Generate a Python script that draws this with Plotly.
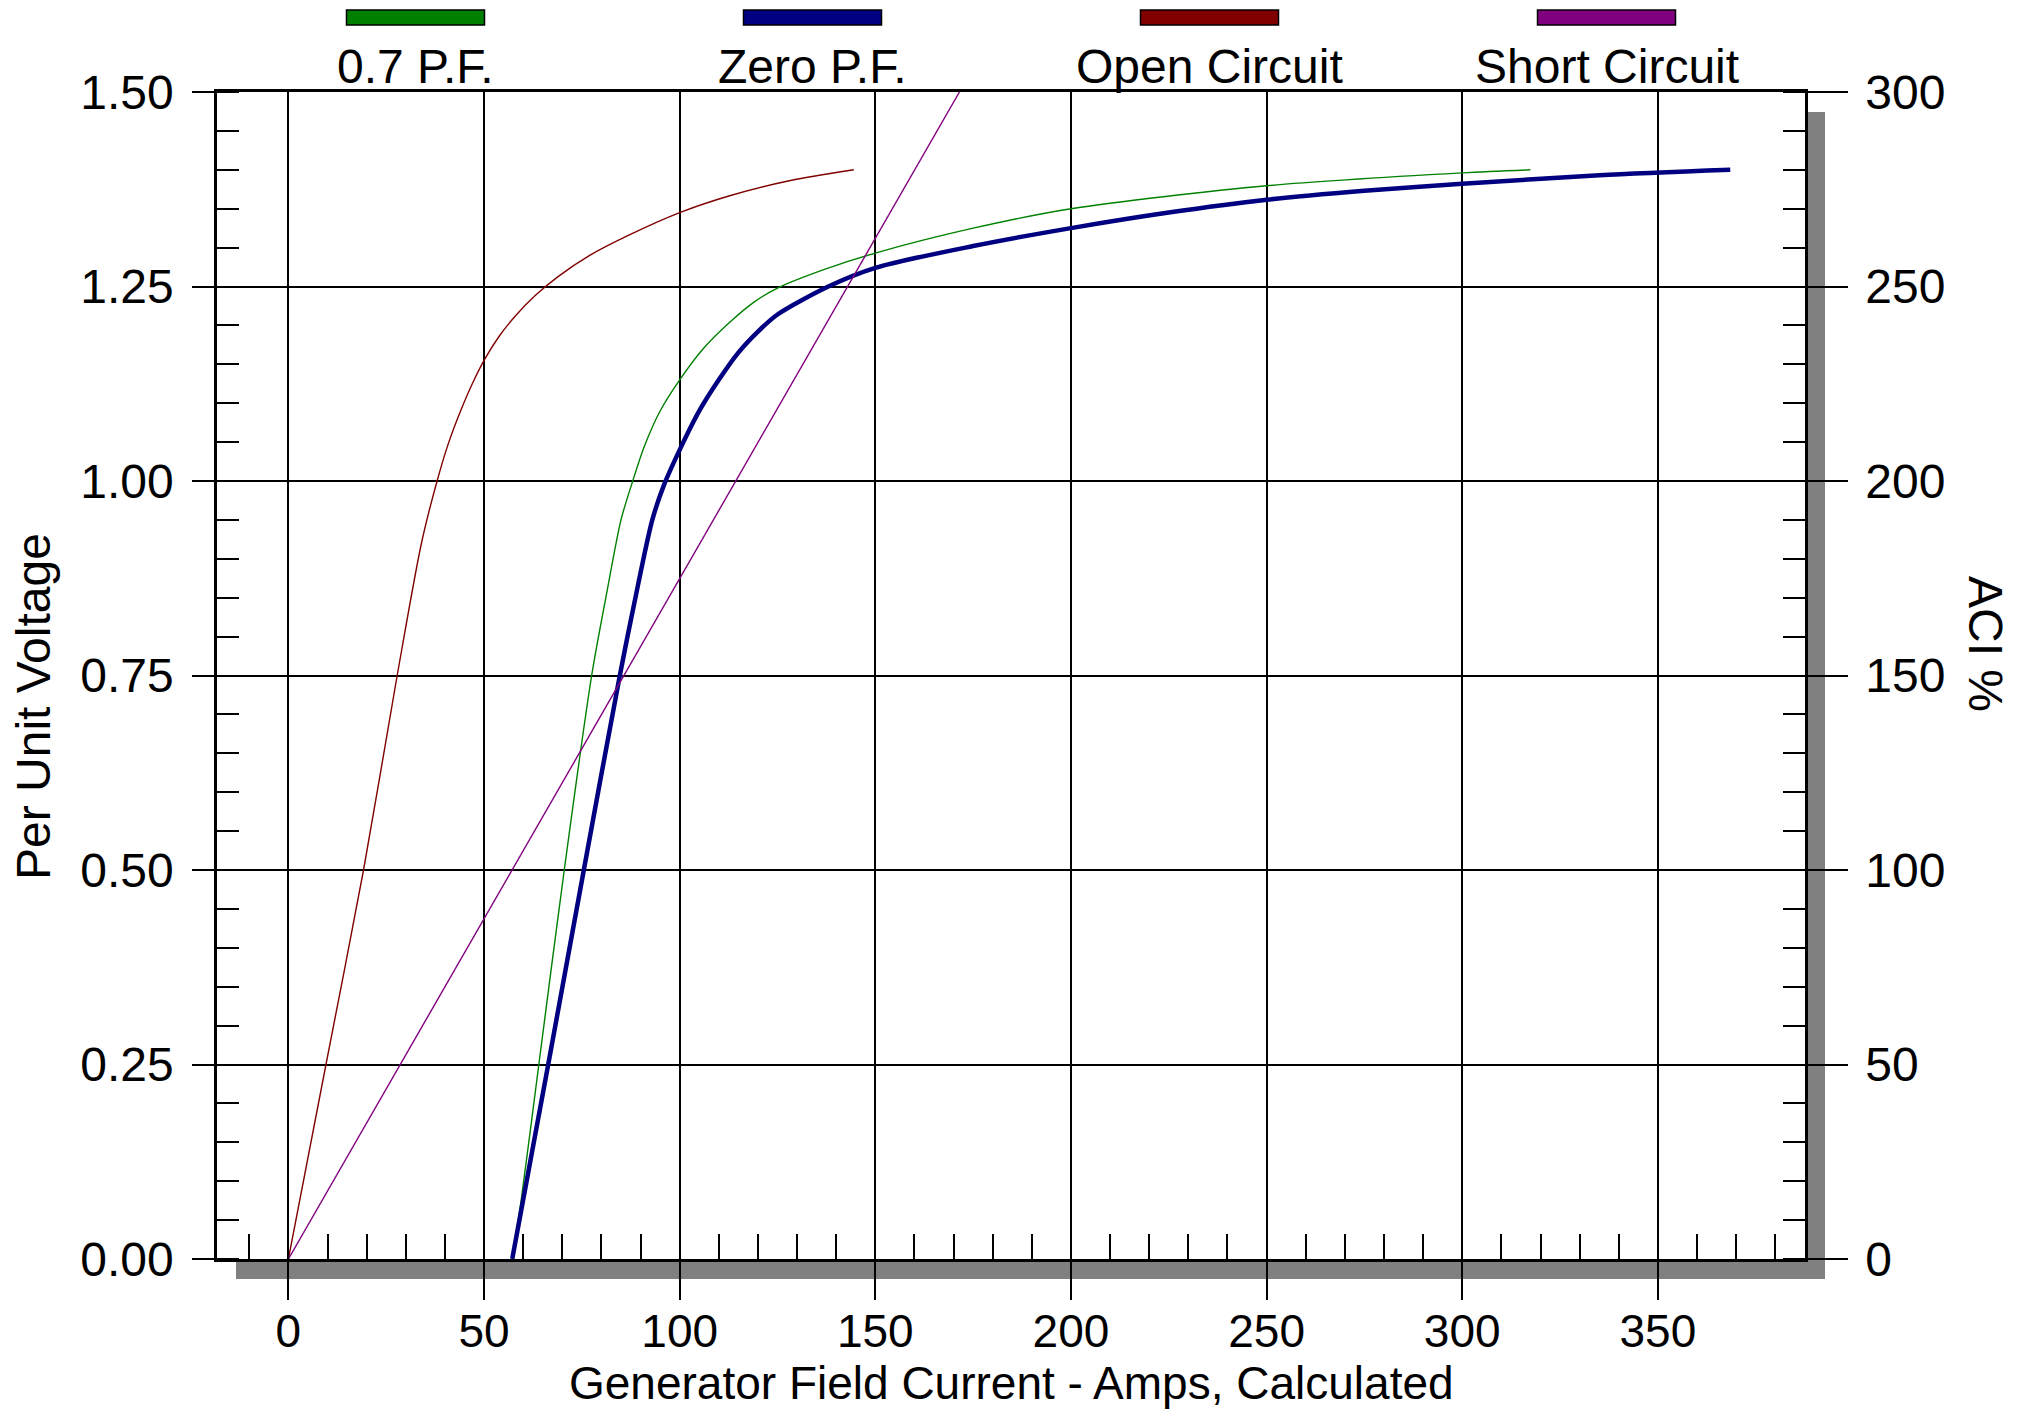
import plotly.graph_objects as go

# ---------------- data ----------------
series_names = ["0.7 P.F.", "Zero P.F.", "Open Circuit", "Short Circuit"]
series_colors = ["#008000", "#000080", "#800000", "#800080"]

pf07_x = [57.2, 59.5, 64.0, 70.5, 77.5, 81.5, 85.0, 88.0, 91.0, 95.0, 100.0, 106.0,
          113.0, 119.0, 125.0, 137.0, 150.0, 175.0, 200.0, 250.0, 300.0, 317.4]
pf07_y = [0.0, 0.076, 0.25, 0.50, 0.75, 0.86, 0.95, 1.0, 1.045, 1.09, 1.13, 1.17,
          1.205, 1.23, 1.248, 1.272, 1.293, 1.325, 1.350, 1.3795, 1.396, 1.40]

zero_x = [57.2, 66.4, 75.5, 84.7, 89.5, 93.0, 96.0, 100.0, 105.0, 110.0, 115.0, 120.0,
          125.0, 138.0, 150.0, 175.0, 200.0, 225.0, 250.0, 275.0, 300.0, 335.0, 368.5]
zero_y = [0.0, 0.25, 0.50, 0.75, 0.87, 0.95, 0.995, 1.04, 1.09, 1.13, 1.165, 1.192,
          1.214, 1.25, 1.274, 1.302, 1.325, 1.345, 1.3615, 1.373, 1.382, 1.393, 1.40]

open_x = [0.0, 9.6, 19.2, 27.8, 34.0, 38.0, 41.0, 44.0, 47.0, 50.0, 54.0, 58.0,
          63.0, 69.0, 77.0, 87.0, 100.0, 113.0, 128.0, 144.5]
open_y = [0.0, 0.25, 0.50, 0.75, 0.92, 1.0, 1.05, 1.09, 1.125, 1.155, 1.187, 1.212,
          1.238, 1.263, 1.29, 1.316, 1.345, 1.367, 1.386, 1.40]

short_x = [0.0, 171.5]
short_y = [0.0, 300.0]   # ACI %

x_ticks = [0, 50, 100, 150, 200, 250, 300, 350]
y_ticks = [0.0, 0.25, 0.50, 0.75, 1.00, 1.25, 1.50]
y2_ticks = [0, 50, 100, 150, 200, 250, 300]

x_title = "Generator Field Current - Amps, Calculated"
y_title = "Per Unit Voltage"
y2_title = "ACI %"

# ---------------- figure ----------------
FONT = "Liberation Sans, Arial, sans-serif"
FS = 48
FSX = 46
W, H = 2028, 1410
ML, MR, MT, MB = 217, 223, 92, 151
PW, PH = W - ML - MR, H - MT - MB

def px_x(p):  # pixel -> paper x
    return (p - ML) / PW

def px_y(p):  # pixel -> paper y
    return (H - MB - p) / PH

fig = go.Figure()
fig.add_trace(go.Scatter(x=pf07_x, y=pf07_y, mode="lines", name=series_names[0],
                         line=dict(color=series_colors[0], width=1.4, shape="spline", smoothing=0.8)))
fig.add_trace(go.Scatter(x=zero_x, y=zero_y, mode="lines", name=series_names[1],
                         line=dict(color=series_colors[1], width=4.5, shape="spline", smoothing=0.8)))
fig.add_trace(go.Scatter(x=open_x, y=open_y, mode="lines", name=series_names[2],
                         line=dict(color=series_colors[2], width=1.4, shape="spline", smoothing=0.8)))
fig.add_trace(go.Scatter(x=short_x, y=short_y, mode="lines", name=series_names[3], yaxis="y2",
                         line=dict(color=series_colors[3], width=1.4)))

tickfont = dict(family=FONT, size=FS, color="black")

fig.update_layout(
    width=W, height=H,
    margin=dict(l=ML, r=MR, t=MT, b=MB),
    paper_bgcolor="white", plot_bgcolor="white",
    showlegend=False,
    font=dict(family=FONT, size=FS, color="black"),
    xaxis=dict(range=[-18.25, 387.6], tickvals=x_ticks, ticks="outside", ticklen=38,
               tickwidth=2, tickcolor="black", showgrid=True, gridcolor="black", gridwidth=1.6,
               showline=True, linecolor="black", linewidth=2.5, mirror=True, zeroline=False,
               tickfont=dict(family=FONT, size=FSX, color="black"), ticklabelstandoff=-8,
               minor=dict(dtick=10, tick0=0, ticks="inside", ticklen=25, tickwidth=2,
                          tickcolor="black", showgrid=False)),
    yaxis=dict(range=[0, 1.5], tickvals=y_ticks, tickformat=".2f", ticks="outside", ticklen=22,
               tickwidth=2, tickcolor="black", showgrid=True, gridcolor="black", gridwidth=1.6,
               showline=True, linecolor="black", linewidth=2.5, zeroline=False,
               tickfont=tickfont, ticklabelstandoff=9,
               minor=dict(dtick=0.05, tick0=0, ticks="inside", ticklen=22, tickwidth=2,
                          tickcolor="black", showgrid=False)),
    yaxis2=dict(range=[0, 300], tickvals=y2_ticks, overlaying="y", side="right",
                ticks="outside", ticklen=40, tickwidth=2, tickcolor="black", showgrid=False,
                showline=True, linecolor="black", linewidth=2.5, zeroline=False,
                tickfont=tickfont, ticklabelstandoff=8,
                minor=dict(dtick=10, tick0=0, ticks="inside", ticklen=22, tickwidth=2,
                           tickcolor="black", showgrid=False)),
)

shapes = []
# drop shadow along bottom and right of plot frame
shapes.append(dict(type="rect", xref="paper", yref="paper", layer="below",
                   x0=px_x(236), x1=px_x(1825), y0=px_y(1279), y1=0,
                   fillcolor="#808080", line=dict(width=0)))
shapes.append(dict(type="rect", xref="paper", yref="paper", layer="below",
                   x0=1.0, x1=px_x(1825), y0=px_y(1279), y1=px_y(112),
                   fillcolor="#808080", line=dict(width=0)))

annotations = []
# custom legend: colour bar above each label
half_w = 69 / PW
for i, (name, col) in enumerate(zip(series_names, series_colors)):
    cx = (i + 0.5) / len(series_names)
    shapes.append(dict(type="rect", xref="paper", yref="paper",
                       x0=cx - half_w, x1=cx + half_w, y0=px_y(25), y1=px_y(10),
                       fillcolor=col, line=dict(color="black", width=1.5)))
    annotations.append(dict(xref="paper", yref="paper", x=cx, y=px_y(67),
                            xanchor="center", yanchor="middle", showarrow=False,
                            text=name, font=dict(family=FONT, size=FS, color="black")))

annotations.append(dict(xref="paper", yref="paper", x=0.5, y=px_y(1383),
                        xanchor="center", yanchor="middle", showarrow=False,
                        text=x_title, font=dict(family=FONT, size=FSX, color="black")))
annotations.append(dict(xref="paper", yref="paper", x=px_x(33), y=px_y(707),
                        xanchor="center", yanchor="middle", showarrow=False, textangle=-90,
                        text=y_title, font=dict(family=FONT, size=FS, color="black")))
annotations.append(dict(xref="paper", yref="paper", x=px_x(1986), y=px_y(644),
                        xanchor="center", yanchor="middle", showarrow=False, textangle=90,
                        text=y2_title, font=dict(family=FONT, size=FS, color="black")))

fig.update_layout(shapes=shapes, annotations=annotations)

fig.write_html("out.html")
